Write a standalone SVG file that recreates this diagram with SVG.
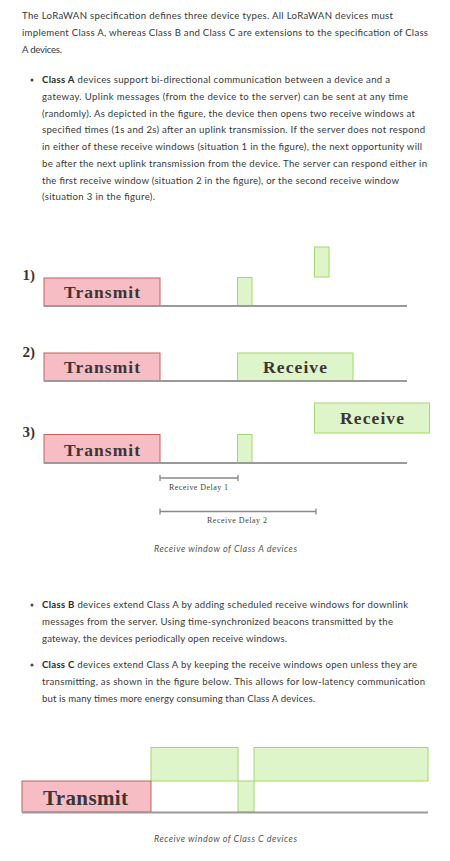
<svg xmlns="http://www.w3.org/2000/svg" width="450" height="861" viewBox="0 0 450 861">
<style>
.body{font-family:Lato,"Noto Sans","Liberation Sans",sans-serif;font-size:9.6px;fill:#383838}
.b{font-weight:bold;fill:#2a2a2a}
.lbl{font-family:"Liberation Serif","Times New Roman",serif;font-weight:bold;fill:#3b3535}
.dl{font-family:"Liberation Serif","Times New Roman",serif;font-size:8px;fill:#444}
.cap{font-family:Lato,"Noto Sans","Liberation Sans",sans-serif;font-style:italic;font-size:9px;fill:#555}
.tx{fill:#f7bdc4;stroke:#c4625b;stroke-width:1}
.rx{fill:#ddf5c8;stroke:#a5d86b;stroke-width:1}
.base{stroke:#9a9a9a;stroke-width:2}
.dly{stroke:#888;stroke-width:1.3;fill:none}
.dot{fill:#444}
</style>
<rect width="450" height="861" fill="#ffffff"/>
<g id="intro">
<text class="body" x="22" y="19" textLength="371" lengthAdjust="spacing">The LoRaWAN specification defines three device types. All LoRaWAN devices must</text>
<text class="body" x="22" y="36" textLength="406" lengthAdjust="spacing">implement Class A, whereas Class B and Class C are extensions to the specification of Class</text>
<text class="body" x="22" y="53" textLength="40" lengthAdjust="spacing">A devices.</text>
</g>
<g id="bulletA">
<circle class="dot" cx="32" cy="80" r="1.5"/>
<text class="body" x="42" y="83.3" textLength="348" lengthAdjust="spacing"><tspan class="b">Class A</tspan> devices support bi-directional communication between a device and a</text>
<text class="body" x="42" y="100" textLength="366" lengthAdjust="spacing">gateway. Uplink messages (from the device to the server) can be sent at any time</text>
<text class="body" x="42" y="116.7" textLength="373" lengthAdjust="spacing">(randomly). As depicted in the figure, the device then opens two receive windows at</text>
<text class="body" x="42" y="133.4" textLength="383" lengthAdjust="spacing">specified times (1s and 2s) after an uplink transmission. If the server does not respond</text>
<text class="body" x="42" y="150.1" textLength="380" lengthAdjust="spacing">in either of these receive windows (situation 1 in the figure), the next opportunity will</text>
<text class="body" x="42" y="166.8" textLength="385" lengthAdjust="spacing">be after the next uplink transmission from the device. The server can respond either in</text>
<text class="body" x="42" y="183.5" textLength="357" lengthAdjust="spacing">the first receive window (situation 2 in the figure), or the second receive window</text>
<text class="body" x="42" y="200.2" textLength="113" lengthAdjust="spacing">(situation 3 in the figure).</text>
</g>
<g id="situation1">
<text class="lbl" x="22.5" y="280" font-size="15">1)</text>
<rect class="tx" x="44" y="278" width="116" height="28"/>
<text class="lbl" x="102" y="298.3" font-size="17.5" text-anchor="middle" textLength="76" lengthAdjust="spacing">Transmit</text>
<rect class="rx" x="237.5" y="277.5" width="14.5" height="28.5"/>
<rect class="rx" x="314.5" y="247" width="14.5" height="30"/>
<line class="base" x1="44" y1="306" x2="407" y2="306"/>
</g>
<g id="situation2">
<text class="lbl" x="22.5" y="357" font-size="15">2)</text>
<rect class="tx" x="44" y="353" width="116" height="28"/>
<text class="lbl" x="102" y="373.3" font-size="17.5" text-anchor="middle" textLength="76" lengthAdjust="spacing">Transmit</text>
<rect class="rx" x="237.5" y="353" width="115.5" height="28"/>
<text class="lbl" x="295" y="373.3" font-size="17.5" text-anchor="middle" textLength="64" lengthAdjust="spacing">Receive</text>
<line class="base" x1="44" y1="381" x2="407" y2="381"/>
</g>
<g id="situation3">
<rect class="rx" x="314.5" y="403" width="115" height="30"/>
<text class="lbl" x="372" y="424.3" font-size="17.5" text-anchor="middle" textLength="64" lengthAdjust="spacing">Receive</text>
<text class="lbl" x="22.5" y="437" font-size="15">3)</text>
<rect class="tx" x="44" y="434.5" width="116" height="28.5"/>
<text class="lbl" x="102" y="456" font-size="17.5" text-anchor="middle" textLength="76" lengthAdjust="spacing">Transmit</text>
<rect class="rx" x="237.5" y="434.5" width="14.5" height="28.5"/>
<line class="base" x1="44" y1="463" x2="407" y2="463"/>
</g>
<g id="delays">
<path class="dly" d="M160,478 H238 M160,475 V481 M238,475 V481"/>
<text class="dl" x="169" y="490" textLength="59" lengthAdjust="spacing">Receive Delay 1</text>
<path class="dly" d="M160,511.5 H316 M160,508.5 V514.5 M316,508.5 V514.5"/>
<text class="dl" x="207" y="523" textLength="60" lengthAdjust="spacing">Receive Delay 2</text>
</g>
<text class="cap" x="225.5" y="551.7" text-anchor="middle" textLength="143" lengthAdjust="spacing">Receive window of Class A devices</text>
<g id="bulletB">
<circle class="dot" cx="32" cy="605" r="1.5"/>
<text class="body" x="42" y="608.3" textLength="366" lengthAdjust="spacing"><tspan class="b">Class B</tspan> devices extend Class A by adding scheduled receive windows for downlink</text>
<text class="body" x="42" y="625" textLength="351" lengthAdjust="spacing">messages from the server. Using time-synchronized beacons transmitted by the</text>
<text class="body" x="42" y="641.7" textLength="245" lengthAdjust="spacing">gateway, the devices periodically open receive windows.</text>
</g>
<g id="bulletC">
<circle class="dot" cx="32" cy="665" r="1.5"/>
<text class="body" x="42" y="668.3" textLength="375" lengthAdjust="spacing"><tspan class="b">Class C</tspan> devices extend Class A by keeping the receive windows open unless they are</text>
<text class="body" x="42" y="685" textLength="383" lengthAdjust="spacing">transmitting, as shown in the figure below. This allows for low-latency communication</text>
<text class="body" x="42" y="701.7" textLength="273" lengthAdjust="spacing">but is many times more energy consuming than Class A devices.</text>
</g>
<g id="classC">
<rect class="rx" x="151" y="747.5" width="87" height="33.5"/>
<rect class="rx" x="238" y="781" width="16" height="31"/>
<rect class="rx" x="254" y="747.5" width="174" height="33.5"/>
<rect class="tx" x="22" y="781" width="129" height="31"/>
<text class="lbl" x="85.5" y="805" font-size="21" text-anchor="middle" textLength="85" lengthAdjust="spacing">Transmit</text>
<line class="base" x1="22" y1="812.5" x2="428" y2="812.5"/>
</g>
<text class="cap" x="225.5" y="842" text-anchor="middle" textLength="143" lengthAdjust="spacing">Receive window of Class C devices</text>
</svg>
